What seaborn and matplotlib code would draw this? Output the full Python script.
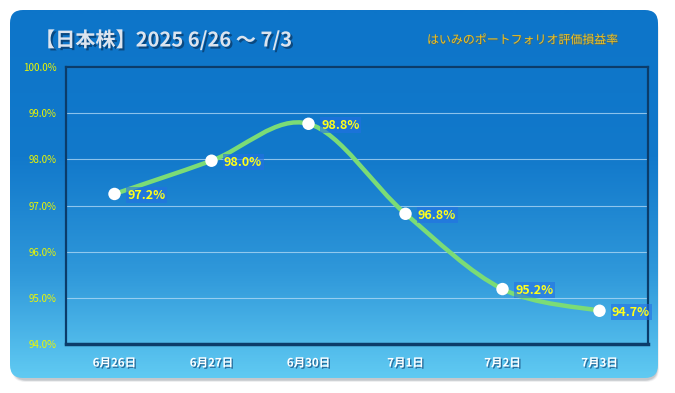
import numpy as np
import pandas as pd
import seaborn as sns
import matplotlib.pyplot as plt
import matplotlib.patheffects as pe
from matplotlib.path import Path
from matplotlib.patches import PathPatch, FancyBboxPatch
from matplotlib.colors import LinearSegmentedColormap

dates = ['6月26日', '6月27日', '6月30日', '7月1日', '7月2日', '7月3日']
ratio = [97.25, 97.97, 98.77, 96.82, 95.19, 94.72]
y_ticks = [94, 95, 96, 97, 98, 99, 100]

title = '【日本株】2025 6/26 〜 7/3'
subtitle = 'はいみのポートフォリオ評価損益率'

df = pd.DataFrame({'pos': range(len(dates)), 'ratio': ratio, 'date': dates})

sns.set_style('white')
plt.rcParams['font.family'] = ['Noto Sans CJK JP', 'DejaVu Sans']

W, H = 675, 393
fig = plt.figure(figsize=(W / 100, H / 100), dpi=100)
fig.patch.set_facecolor('white')

# background card (pixel coords)
bg = fig.add_axes([0, 0, 1, 1])
bg.set_xlim(0, W)
bg.set_ylim(H, 0)
bg.axis('off')

for k, a in enumerate([0.06, 0.08, 0.11, 0.15]):
    sh = FancyBboxPatch((12 + k * 0.5, 16 + k), 647 - k, 366 - k * 1.5,
                        boxstyle='round,pad=0,rounding_size=13',
                        fc='#5a6470', ec='none', alpha=a, zorder=0)
    bg.add_patch(sh)

card = FancyBboxPatch((10, 10), 648, 368, boxstyle='round,pad=0,rounding_size=13',
                      fc='none', ec='none')
bg.add_patch(card)
cmap = LinearSegmentedColormap.from_list('card', ['#0d75c9', '#1279cb', '#2f98da', '#60caf2'])
grad = np.linspace(0, 1, 256).reshape(-1, 1) ** 1.2
im = bg.imshow(grad, cmap=cmap, extent=[10, 658, 378, 10], aspect='auto', zorder=2)
im.set_clip_path(card)

fig.text(35 / W, 1 - 40 / H, title, color='#dce4ee', fontsize=14.5, fontweight='bold',
         va='center', ha='left',
         path_effects=[pe.withSimplePatchShadow(offset=(1.5, -1.5), shadow_rgbFace='#0a3560', alpha=0.7)])
fig.text(522 / W, 1 - 40 / H, subtitle, color='#f5c21a', fontsize=8.6,
         va='center', ha='center',
         path_effects=[pe.withSimplePatchShadow(offset=(0.6, -0.6), shadow_rgbFace='#8a5a00', alpha=0.5)])

# chart
ax = fig.add_axes([66 / W, 1 - 344 / H, (648 - 66) / W, (344 - 67) / H])
ax.set_facecolor('none')
ax.set_xlim(-0.5, len(dates) - 0.5)
ax.set_ylim(94, 100)

for t in y_ticks:
    ax.axhline(t, color='#b5dcf7', lw=0.8, alpha=0.75, zorder=1)

# smooth line through the points (cubic bezier, catmull-rom style)
pts = np.column_stack([df['pos'], df['ratio']]).astype(float)
ext = np.vstack([pts[0], pts, pts[-1]])
verts = [tuple(pts[0])]
codes = [Path.MOVETO]
for i in range(len(pts) - 1):
    p0, p1, p2, p3 = ext[i], ext[i + 1], ext[i + 2], ext[i + 3]
    c1 = p1 + (p2 - p0) / 6
    c2 = p2 - (p3 - p1) / 6
    verts += [tuple(c1), tuple(c2), tuple(p2)]
    codes += [Path.CURVE4] * 3
ax.add_patch(PathPatch(Path(verts, codes), fc='none', ec='#7bdc76', lw=3.2,
                       capstyle='round', zorder=3))

sns.scatterplot(data=df, x='pos', y='ratio', color='white', s=80, edgecolor='none',
                zorder=4, ax=ax, legend=False)

for _, r in df.iterrows():
    ax.annotate(f"{r['ratio']:.1f}%", (r['pos'], r['ratio']), xytext=(9, -1),
                textcoords='offset points', va='center', ha='left',
                color='#ffff1a', fontsize=9, fontweight='bold', zorder=5,
                bbox=dict(boxstyle='square,pad=0.12', fc='#2470e4', ec='none', alpha=0.6))

ax.set_xticks(df['pos'])
ax.set_xticklabels(dates)
ax.set_xticks(np.arange(-0.5, len(dates)), minor=True)
ax.set_yticks(y_ticks)
ax.set_yticklabels([f'{t:.1f}%' for t in y_ticks])
ax.tick_params(axis='x', which='major', length=0, pad=9, labelsize=8.3, labelcolor='white')
ax.tick_params(axis='x', which='minor', length=4, width=1, color='#e8f4ff', direction='out')
ax.tick_params(axis='y', length=0, pad=7, labelsize=7, labelcolor='#ecf600')
for lab in ax.get_xticklabels():
    lab.set_fontweight('bold')
    lab.set_path_effects([pe.withSimplePatchShadow(offset=(1, -1), shadow_rgbFace='#1d5a8a', alpha=0.8)])

for side in ['left', 'right', 'top']:
    ax.spines[side].set_color('#0b3c6a')
    ax.spines[side].set_linewidth(1.6)
ax.spines['bottom'].set_color('#0b3c6a')
ax.spines['bottom'].set_linewidth(2.5)
ax.set_xlabel('')
ax.set_ylabel('')

fig.savefig('out.png', dpi=100)
